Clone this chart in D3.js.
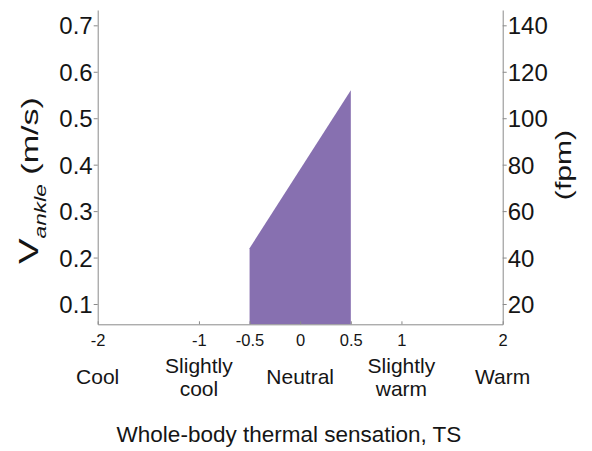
<!DOCTYPE html>
<html>
<head>
<meta charset="utf-8">
<script src="https://cdn.jsdelivr.net/npm/d3@7"></script>
<style>
  html, body { margin: 0; padding: 0; background: #fff; }
  svg { display: block; }
  text { font-family: Arial, "Liberation Sans", Helvetica, sans-serif; fill: #151515; }
</style>
</head>
<body>
<svg id="chart" width="592" height="451"></svg>
<script>
// ---- data ----
const tsPoints = [-0.5, 0.5];          // whole-body thermal sensation
const vUpper = [0.22, 0.56];           // upper limit of ankle air speed (m/s)
const xTickValues = [-2, -1, -0.5, 0, 0.5, 1, 2];
const xTickLabels = ["-2", "-1", "-0.5", "0", "0.5", "1", "2"];
const yTickValues = [0.1, 0.2, 0.3, 0.4, 0.5, 0.6, 0.7];
const yTickLabels = ["0.1", "0.2", "0.3", "0.4", "0.5", "0.6", "0.7"];
const fpmTickValues = [20, 40, 60, 80, 100, 120, 140];
const fpmTickLabels = ["20", "40", "60", "80", "100", "120", "140"];
const categoryTS = [-2, -1, 0, 1, 2];
const categoryLabels = [["Cool"], ["Slightly", "cool"], ["Neutral"], ["Slightly", "warm"], ["Warm"]];
const yDomain = [0.0563, 0.733];
const msToFpm = 200;

// ---- layout ----
const mLeft = 97.7, mRight = 502.7, mTop = 10, mBottom = 324.3;
const svg = d3.select("#chart");

const x = d3.scaleLinear().domain([-2, 2]).range([mLeft, mRight]);
const y = d3.scaleLinear().domain(yDomain).range([mBottom, mTop]);
const y2 = d3.scaleLinear().domain(yDomain.map(d => d * msToFpm)).range([mBottom, mTop]);

// ---- area ----
const area = d3.area()
  .x((d, i) => x(tsPoints[i]))
  .y0(() => y(yDomain[0]))
  .y1((d, i) => y(vUpper[i]));
svg.append("path")
  .datum(tsPoints)
  .attr("d", area)
  .attr("fill", "#8770b0");

const axisColor = "#8a8a8a";
const tickFont = "24px";

// ---- left axis ----
const gL = svg.append("g").attr("transform", `translate(${mLeft},0)`)
  .call(d3.axisLeft(y).tickValues(yTickValues)
    .tickFormat((d, i) => yTickLabels[i]).tickSize(4).tickSizeOuter(0));
gL.attr("font-size", null).attr("font-family", null);
gL.select(".domain").attr("stroke", axisColor);
gL.selectAll(".tick line").attr("stroke", axisColor);
gL.selectAll(".tick text")
  .attr("x", -5).attr("dy", "0.36em")
  .attr("font-size", tickFont).style("font-size", tickFont)
  .attr("fill", "#151515");

// ---- right axis ----
const gR = svg.append("g").attr("transform", `translate(${mRight},0)`)
  .call(d3.axisRight(y2).tickValues(fpmTickValues)
    .tickFormat((d, i) => fpmTickLabels[i]).tickSize(4).tickSizeOuter(0));
gR.attr("font-size", null).attr("font-family", null);
gR.select(".domain").attr("stroke", axisColor);
gR.selectAll(".tick line").attr("stroke", axisColor);
gR.selectAll(".tick text")
  .attr("x", 5).attr("dy", "0.36em")
  .attr("font-size", tickFont).style("font-size", tickFont)
  .attr("fill", "#151515");

// ---- bottom axis ----
const gB = svg.append("g").attr("transform", `translate(0,${mBottom})`)
  .call(d3.axisBottom(x).tickValues(xTickValues)
    .tickFormat((d, i) => xTickLabels[i]).tickSize(-3).tickSizeOuter(0));
gB.attr("font-size", null).attr("font-family", null);
gB.select(".domain").attr("stroke", axisColor);
gB.selectAll(".tick line").attr("stroke", axisColor);
gB.selectAll(".tick text")
  .attr("y", 22).attr("dy", 0)
  .attr("font-size", "16.5px").style("font-size", "16.5px")
  .attr("fill", "#151515");

// ---- category labels ----
categoryTS.forEach((ts, i) => {
  const lines = categoryLabels[i];
  const t = svg.append("text")
    .attr("text-anchor", "middle")
    .style("font-size", "21px");
  if (lines.length === 1) {
    t.append("tspan").attr("x", x(ts)).attr("y", 384).text(lines[0]);
  } else {
    t.append("tspan").attr("x", x(ts)).attr("y", 373).text(lines[0]);
    t.append("tspan").attr("x", x(ts)).attr("y", 396).text(lines[1]);
  }
});

// ---- x title ----
svg.append("text")
  .attr("x", 289).attr("y", 442)
  .attr("text-anchor", "middle")
  .style("font-size", "22.5px")
  .text("Whole-body thermal sensation, TS");

// ---- left y title ----
const yt = svg.append("text")
  .attr("transform", "translate(38,264) rotate(-90) scale(1.42,1)")
  .attr("text-anchor", "start");
yt.append("tspan").style("font-size", "27px").text("V");
yt.append("tspan").style("font-size", "16px").style("font-style", "italic")
  .attr("dy", 8).text("ankle");
yt.append("tspan").style("font-size", "24px").attr("dy", -8).text(" (m/s)");

// ---- right y title ----
svg.append("text")
  .attr("transform", "translate(570.5,165) rotate(-90) scale(1.37,1)")
  .attr("text-anchor", "middle")
  .style("font-size", "22px")
  .text("(fpm)");
</script>
</body>
</html>
